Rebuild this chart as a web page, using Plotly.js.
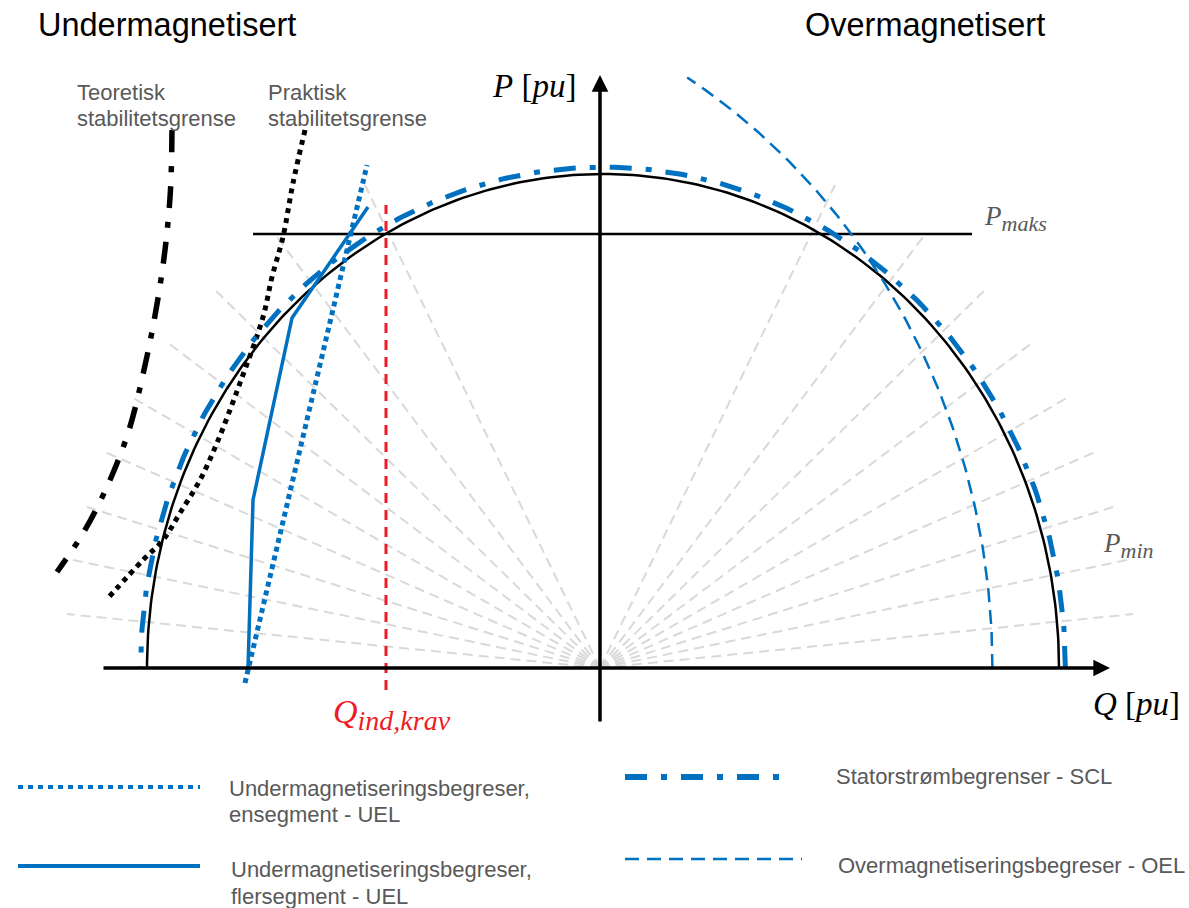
<!DOCTYPE html>
<html>
<head>
<meta charset="utf-8">
<script src="https://cdn.plot.ly/plotly-3.0.1.min.js"></script>
<style>
  html, body { margin: 0; padding: 0; background: #ffffff; }
  #chart { width: 1189px; height: 908px; }
</style>
</head>
<body>
<div id="chart"></div>
<script>
// ---------------- DATA (per-unit, Q horizontal, P vertical) ----------------
// Capability circle (stator current = 1 pu) and stator current limiter (SCL)
const circleRadius = 1.0;
const sclRadius = 1.014;
// Over-excitation limiter (OEL): arc of a circle centred on the Q axis
const oelCentreQ = -0.548;
const oelRadius = 1.402;
const oelEndAngleDeg = 58.5;
// P_maks line
const pMaks = 0.8785;
const pMaksQRange = [-0.7675, 0.8092];
// Q_ind,krav requirement
const qIndKrav = -0.4759;
const qIndKravPRange = [-0.0445, 0.9372];
// Grey construction fan (origin + end points)
const fanOriginQ = -0.0066;
const fanEndQ = [1.1623, 1.1491, 1.1184, 1.0789, 1.0175, 0.9408, 0.8377, 0.7018, 0.5088,
                 -1.1754, -1.1623, -1.1316, -1.0921, -1.0307, -0.9539, -0.8509, -0.7149, -0.5219];
const fanEndP = [0.1093, 0.2186, 0.3259, 0.4372, 0.5466, 0.6579, 0.7652, 0.8725, 0.9777,
                 0.1093, 0.2186, 0.3259, 0.4372, 0.5466, 0.6579, 0.7652, 0.8725, 0.9777];
// Under-excitation limiter, single segment
const uelSingleQ = [-0.7851, -0.5175];
const uelSingleP = [-0.0304, 1.0182];
// Under-excitation limiter, multi segment
const uelMultiQ = [-0.7785, -0.7675, -0.6820, -0.5154];
const uelMultiP = [0.0, 0.3401, 0.7085, 0.9332];
// Theoretical stability limit
const theoQ = [-0.9452, -0.9485, -0.9605, -0.9803, -1.0066, -1.0395, -1.0811, -1.1360, -1.1974];
const theoP = [1.0891, 0.9676, 0.8462, 0.7247, 0.6032, 0.4818, 0.3806, 0.2794, 0.1943];
// Practical stability limit
const pracQ = [-0.6535, -0.6798, -0.7018, -0.7259, -0.7456, -0.7961, -0.8465, -0.8838, -0.9276, -0.9649, -1.0088, -1.0855];
const pracP = [1.0891, 0.9818, 0.8725, 0.7915, 0.7105, 0.5769, 0.4555, 0.3806, 0.3138, 0.2591, 0.2186, 0.1417];
// Axes (arrows)
const qAxisRange = [-1.0987, 1.1118];
const pAxisQ = -0.0066;
const pAxisRange = [-0.1113, 1.2004];

// Texts
const titleLeft = 'Undermagnetisert';
const titleRight = 'Overmagnetisert';
const legendTexts = {
  uelSingle: ['Undermagnetiseringsbegreser,', 'ensegment - UEL'],
  uelMulti: ['Undermagnetiseringsbegreser,', 'flersegment - UEL'],
  scl: 'Statorstrømbegrenser - SCL',
  oel: 'Overmagnetiseringsbegreser - OEL'
};

// ---------------- helpers ----------------
const W = 1189, H = 908;
const X = px => px / W;          // pixel -> paper
const Y = py => 1 - py / H;

function arc(cq, cp, r, a0, a1, n) {
  const q = [], p = [];
  for (let i = 0; i <= n; i++) {
    const a = (a0 + (a1 - a0) * i / n) * Math.PI / 180;
    q.push(cq + r * Math.cos(a));
    p.push(cp + r * Math.sin(a));
  }
  return {q, p};
}

const BLUE = '#0070c0';
const GREY_TXT = '#595959';

// fan as one trace with gaps
const fanQ = [], fanP = [];
for (let i = 0; i < fanEndQ.length; i++) {
  fanQ.push(fanOriginQ, fanEndQ[i], null);
  fanP.push(0, fanEndP[i], null);
}

const circ = arc(0, 0, circleRadius, 0, 180, 240);
const scl = arc(0, 0, sclRadius, 0, 180, 240);
const oel = arc(oelCentreQ, 0, oelRadius, 0, oelEndAngleDeg, 120);

const traces = [
  {x: fanQ, y: fanP, mode: 'lines', line: {color: '#d9d9d9', width: 2, dash: '10px,6px'}, hoverinfo: 'skip'},
  {x: circ.q, y: circ.p, mode: 'lines', line: {color: '#000', width: 2.5}, hoverinfo: 'skip'},
  {x: pMaksQRange, y: [pMaks, pMaks], mode: 'lines', line: {color: '#000', width: 2.5}, hoverinfo: 'skip'},
  {x: [qIndKrav, qIndKrav], y: qIndKravPRange, mode: 'lines', line: {color: '#ee1c24', width: 3, dash: '10px,7px'}, hoverinfo: 'skip'},
  {x: theoQ, y: theoP, mode: 'lines', line: {color: '#000', width: 5.5, dash: '22px,14px,6px,14px', shape: 'spline'}, hoverinfo: 'skip'},
  {x: pracQ, y: pracP, mode: 'lines', line: {color: '#000', width: 5, dash: '5px,5px', shape: 'spline'}, hoverinfo: 'skip'},
  {x: uelSingleQ, y: uelSingleP, mode: 'lines', line: {color: BLUE, width: 5, dash: '5px,4px'}, hoverinfo: 'skip'},
  {x: uelMultiQ, y: uelMultiP, mode: 'lines', line: {color: BLUE, width: 3.5}, hoverinfo: 'skip'},
  {x: scl.q, y: scl.p, mode: 'lines', line: {color: BLUE, width: 5, dash: '22px,14px,6px,14px'}, hoverinfo: 'skip'},
  {x: oel.q, y: oel.p, mode: 'lines', line: {color: BLUE, width: 2.5, dash: '14px,8px'}, hoverinfo: 'skip'}
];

function txt(text, px, py, size, color, xanchor, family) {
  return {text: text, x: X(px), y: Y(py), xref: 'paper', yref: 'paper', showarrow: false,
          xanchor: xanchor || 'left', yanchor: 'middle', align: 'left',
          font: {family: family || '"Liberation Sans", Arial, sans-serif', size: size, color: color}};
}
const SERIF = '"Liberation Serif", "Times New Roman", serif';
const subBig = (s, size) => '<sub><span style="font-size:' + size + 'px"><i>' + s + '</i></span></sub>';

const annotations = [
  // axes arrows
  {x: qAxisRange[1], y: 0, ax: qAxisRange[0], ay: 0, xref: 'x', yref: 'y', axref: 'x', ayref: 'y',
   showarrow: true, arrowhead: 2, arrowsize: 0.95, arrowwidth: 3.5, arrowcolor: '#000', text: ''},
  {x: pAxisQ, y: pAxisRange[1], ax: pAxisQ, ay: pAxisRange[0], xref: 'x', yref: 'y', axref: 'x', ayref: 'y',
   showarrow: true, arrowhead: 2, arrowsize: 0.95, arrowwidth: 3.5, arrowcolor: '#000', text: ''},
  txt(titleLeft, 36, 25, 32.5, '#000'),
  txt(titleRight, 803, 25, 32.5, '#000'),
  txt('Teoretisk', 75, 92, 22, GREY_TXT),
  txt('stabilitetsgrense', 75, 118, 22, GREY_TXT),
  txt('Praktisk', 266, 92, 22, GREY_TXT),
  txt('stabilitetsgrense', 266, 118, 22, GREY_TXT),
  txt('<i>P</i> [<i>pu</i>]', 534, 86, 33, '#000', 'center', SERIF),
  txt('<i>Q</i> [<i>pu</i>]', 1136, 704, 33, '#000', 'center', SERIF),
  txt('<i>P</i>' + subBig('maks', 22), 982, 219, 27, GREY_TXT, 'left', SERIF),
  txt('<i>P</i>' + subBig('min', 22), 1101, 545, 27, GREY_TXT, 'left', SERIF),
  txt('<i>Q</i>' + subBig('ind,krav', 28), 331, 714, 34, '#ee1c24', 'left', SERIF),
  txt(legendTexts.uelSingle[0], 227, 788, 22, GREY_TXT),
  txt(legendTexts.uelSingle[1], 227, 814, 22, GREY_TXT),
  txt(legendTexts.uelMulti[0], 229, 869, 22, GREY_TXT),
  txt(legendTexts.uelMulti[1], 229, 896, 22, GREY_TXT),
  txt(legendTexts.scl, 834, 776, 22, GREY_TXT),
  txt(legendTexts.oel, 836, 865, 22, GREY_TXT)
];

function legLine(x0, x1, py, line) {
  return {type: 'line', xref: 'paper', yref: 'paper', x0: X(x0), x1: X(x1), y0: Y(py), y1: Y(py), line: line};
}
const shapes = [
  legLine(18, 200, 787, {color: BLUE, width: 4, dash: '5px,5px'}),
  legLine(18, 200, 866, {color: BLUE, width: 4}),
  legLine(625, 792, 777, {color: BLUE, width: 6, dash: '22px,14px,6px,14px'}),
  legLine(625, 802, 859, {color: BLUE, width: 2.5, dash: '14px,8px'})
];

const layout = {
  width: W, height: H,
  margin: {l: 0, r: 0, t: 0, b: 0, pad: 0},
  paper_bgcolor: '#ffffff', plot_bgcolor: '#ffffff',
  showlegend: false,
  xaxis: {range: [-603 / 456, (W - 603) / 456], visible: false, fixedrange: true},
  yaxis: {range: [(668 - H) / 494, 668 / 494], visible: false, fixedrange: true},
  annotations: annotations,
  shapes: shapes
};

Plotly.newPlot('chart', traces, layout, {staticPlot: true, displayModeBar: false});
</script>
</body>
</html>
